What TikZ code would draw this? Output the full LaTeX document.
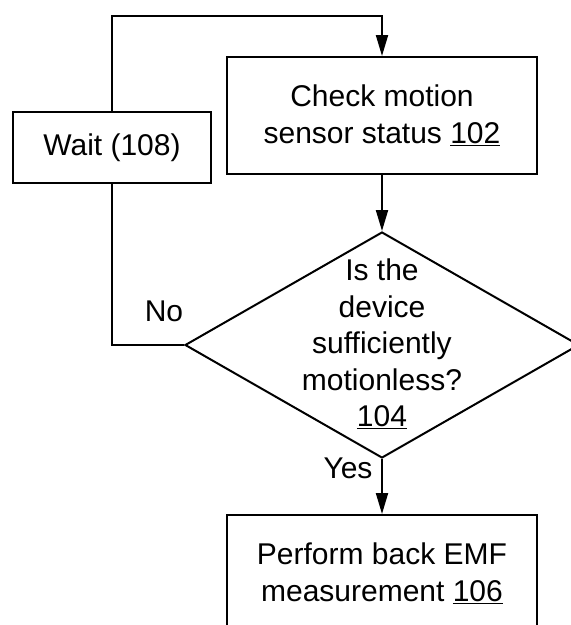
\documentclass[tikz,border=0pt]{standalone}
\usepackage{fontspec}
\setmainfont{Liberation Sans}
\usetikzlibrary{shapes.geometric,arrows.meta}
\begin{document}
\begin{tikzpicture}[x=1pt,y=-1pt,
  every node/.style={font=\fontsize{30}{36.5}\selectfont},
  box/.style={draw,line width=2pt,inner sep=0pt},
  conn/.style={line width=2pt},
  arr/.style={conn,-{Triangle[length=21pt,width=12pt]}},
  lbl/.style={inner sep=0pt}]
\useasboundingbox (0,0) rectangle (571,625);
\node[box,minimum width=310pt,minimum height=117pt,align=center] (check) at (382,115.5)
  {Check motion\\sensor status \underline{102}};
\node[box,minimum width=198pt,minimum height=71pt] (wait) at (112,147.5) {Wait (108)};
\node[diamond,draw,line width=2pt,inner sep=0pt,minimum width=394pt,minimum height=226pt] (dec) at (382,345) {};
\node[align=center,lbl] (dtext) at (382,344) {Is the\\device\\sufficiently\\motionless?\\\underline{104}};
\node[box,minimum width=310pt,minimum height=117pt,align=center] (emf) at (382,573.5)
  {Perform back EMF\\measurement \underline{106}};
\coordinate (tl) at (112,16);
\coordinate (tr) at (382,16);
\coordinate (bl) at (112,345);
\node[lbl] (no) at (164,311) {No};
\node[lbl] (yes) at (348,468) {Yes};
\draw[arr] (wait.north) -- (tl) -- (tr) -- (check.north);
\draw[arr] (check.south) -- (dec.north);
\draw[conn] (dec.west) -- (bl) -- (wait.south);
\draw[arr] (dec.south) -- (emf.north);
\end{tikzpicture}
\end{document}
